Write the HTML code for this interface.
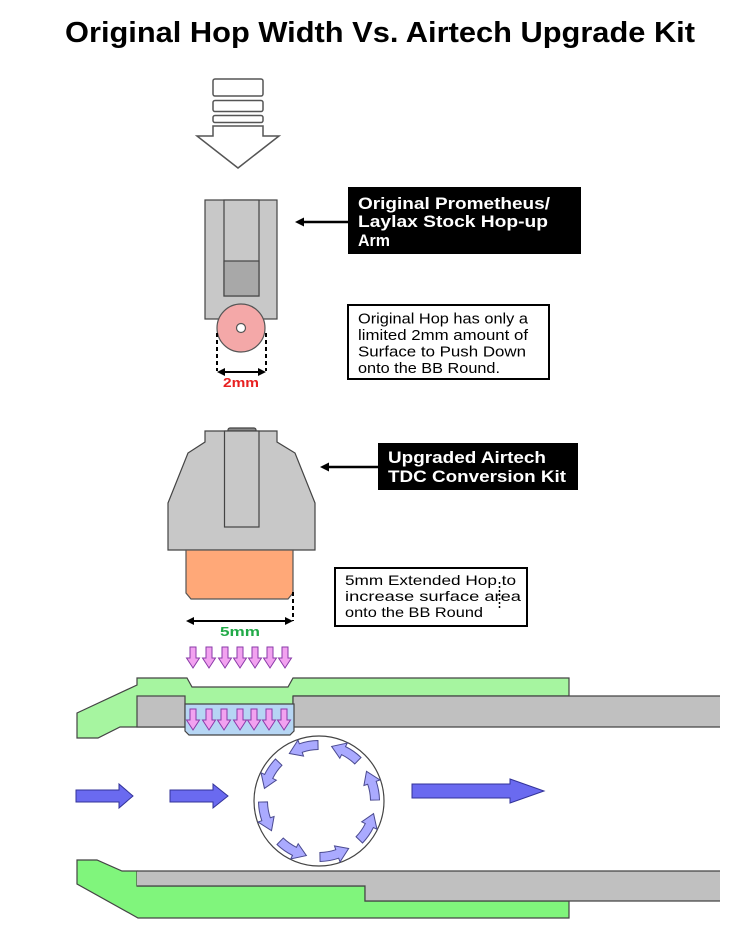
<!DOCTYPE html>
<html>
<head>
<meta charset="utf-8">
<style>
html,body{margin:0;padding:0;background:#fff;}
svg{display:block;}
text{font-family:"Liberation Sans", "DejaVu Sans", sans-serif;}
</style>
</head>
<body>
<svg width="756" height="945" viewBox="0 0 756 945" xmlns="http://www.w3.org/2000/svg">
<defs>
  <path id="pa" d="M-3,0 H3 V11 H6.5 L0,21 L-6.5,11 H-3 Z" fill="#f2a2f0" stroke="#8a3aa8" stroke-width="1"/>
  <path id="arc" d="M60.49,-1.06 A60.5,60.5 0 0 0 57.20,-19.70 L60.99,-21.00 L47.49,-29.67 L44.91,-15.47 L48.69,-16.77 A51.5,51.5 0 0 1 51.49,-0.90 Z" fill="#aaaaff" stroke="#4a4a90" stroke-width="1"/>
</defs>

<!-- Title -->
<text x="65" y="42" font-size="29" font-weight="bold" fill="#000" textLength="630" lengthAdjust="spacingAndGlyphs">Original Hop Width Vs. Airtech Upgrade Kit</text>

<!-- top push arrow -->
<g fill="#fff" stroke="#555" stroke-width="1.5">
  <rect x="213" y="79" width="50" height="17" rx="2"/>
  <rect x="213" y="100.5" width="50" height="11" rx="2"/>
  <rect x="213" y="115.5" width="50" height="7" rx="2"/>
  <polygon points="213,126 263,126 263,136 279,136 238,168 197,136 213,136"/>
</g>

<!-- Original hop arm -->
<g stroke="#444" stroke-width="1.2">
  <rect x="205" y="200" width="72" height="119" fill="#c8c8c8"/>
  <rect x="224" y="200" width="35" height="96" fill="#c8c8c8"/>
  <rect x="224" y="261" width="35" height="35" fill="#a8a8a8"/>
  <circle cx="241" cy="328" r="24" fill="#f4a8a8" stroke="#555"/>
  <circle cx="241" cy="328" r="4.5" fill="#fff" stroke="#555"/>
</g>
<!-- 2mm dimension -->
<g stroke="#000" stroke-width="2" stroke-dasharray="4 3">
  <line x1="217" y1="333" x2="217" y2="371"/>
  <line x1="266" y1="333" x2="266" y2="371"/>
</g>
<line x1="224" y1="372" x2="259" y2="372" stroke="#000" stroke-width="2"/>
<polygon points="217,372 225,368 225,376" fill="#000"/>
<polygon points="266,372 258,368 258,376" fill="#000"/>
<text x="241" y="387" font-size="13" font-weight="bold" fill="#e82020" text-anchor="middle" textLength="36" lengthAdjust="spacingAndGlyphs">2mm</text>

<!-- Label 1 -->
<line x1="303" y1="222" x2="348" y2="222" stroke="#000" stroke-width="2.5"/>
<polygon points="295,222 304,217.5 304,226.5" fill="#000"/>
<rect x="348" y="187" width="233" height="67" fill="#000"/>
<g fill="#fff" font-size="17" font-weight="bold">
  <text x="358" y="209" textLength="192" lengthAdjust="spacingAndGlyphs">Original Prometheus/</text>
  <text x="358" y="227" textLength="190" lengthAdjust="spacingAndGlyphs">Laylax Stock Hop-up</text>
  <text x="358" y="246" textLength="32" lengthAdjust="spacingAndGlyphs">Arm</text>
</g>

<!-- Label 2 -->
<rect x="348" y="305" width="201" height="74" fill="#fff" stroke="#000" stroke-width="2"/>
<g fill="#000" font-size="14.5">
  <text x="358" y="323.5" textLength="170" lengthAdjust="spacingAndGlyphs">Original Hop has only a</text>
  <text x="358" y="340" textLength="170" lengthAdjust="spacingAndGlyphs">limited 2mm amount of</text>
  <text x="358" y="356.5" textLength="168" lengthAdjust="spacingAndGlyphs">Surface to Push Down</text>
  <text x="358" y="373" textLength="142" lengthAdjust="spacingAndGlyphs">onto the BB Round.</text>
</g>

<!-- Upgraded arm -->
<g stroke="#444" stroke-width="1.2">
  <rect x="228" y="428" width="28" height="5" rx="2" fill="#888"/>
  <polygon points="205,431 277,431 277,442 295,453 315,503 315,550 168,550 168,503 188,453 205,442" fill="#c8c8c8"/>
  <rect x="224.5" y="431" width="34.5" height="96" fill="#c8c8c8"/>
  <polygon points="186,550 293,550 293,593 288,599 191,599 186,593" fill="#ffa878" stroke="#555"/>
</g>
<!-- 5mm dimension -->
<line x1="293" y1="592" x2="293" y2="621" stroke="#000" stroke-width="2" stroke-dasharray="4 3"/>
<line x1="193" y1="621" x2="286" y2="621" stroke="#000" stroke-width="2"/>
<polygon points="186,621 194,617 194,625" fill="#000"/>
<polygon points="293,621 285,617 285,625" fill="#000"/>
<text x="240" y="636" font-size="13" font-weight="bold" fill="#22aa48" text-anchor="middle" textLength="40" lengthAdjust="spacingAndGlyphs">5mm</text>

<!-- upper pink arrows -->
<use href="#pa" x="193" y="647"/>
<use href="#pa" x="209" y="647"/>
<use href="#pa" x="225" y="647"/>
<use href="#pa" x="240" y="647"/>
<use href="#pa" x="255" y="647"/>
<use href="#pa" x="270" y="647"/>
<use href="#pa" x="285" y="647"/>

<!-- Label 3 -->
<line x1="328" y1="467" x2="379" y2="467" stroke="#000" stroke-width="2.5"/>
<polygon points="320,467 329,462.5 329,471.5" fill="#000"/>
<rect x="378" y="443" width="200" height="47" fill="#000"/>
<g fill="#fff" font-size="17" font-weight="bold">
  <text x="388" y="463" textLength="158" lengthAdjust="spacingAndGlyphs">Upgraded Airtech</text>
  <text x="388" y="482" textLength="178" lengthAdjust="spacingAndGlyphs">TDC Conversion Kit</text>
</g>

<!-- Label 4 -->
<rect x="335" y="568" width="192" height="58" fill="#fff" stroke="#000" stroke-width="2"/>
<g fill="#000" font-size="14">
  <text x="345" y="585" textLength="171" lengthAdjust="spacingAndGlyphs">5mm Extended Hop to</text>
  <text x="345" y="601" textLength="176" lengthAdjust="spacingAndGlyphs">increase surface area</text>
  <text x="345" y="617" textLength="138" lengthAdjust="spacingAndGlyphs">onto the BB Round</text>
</g>
<line x1="499.5" y1="582" x2="499.5" y2="608" stroke="#000" stroke-width="1.5" stroke-dasharray="2 2"/>

<!-- Barrel top -->
<polygon points="77,713 137,685 137,678 187,678 192,687 288,687 293,678 569,678 569,696 293,696 293,727 137,727 120,727 98,738 77,738" fill="#a6f5a0" stroke="#444" stroke-width="1.2"/>
<rect x="137" y="696" width="48" height="31" fill="#c0c0c0" stroke="#444" stroke-width="1.2"/>
<rect x="293" y="696" width="427" height="31" fill="#c0c0c0"/>
<line x1="293" y1="696" x2="720" y2="696" stroke="#444" stroke-width="1.2"/>
<line x1="293" y1="727" x2="720" y2="727" stroke="#444" stroke-width="1.2"/>
<line x1="293" y1="696" x2="293" y2="727" stroke="#444" stroke-width="1.2"/>
<polygon points="185,704 294,704 294,731 290,735 189,735 185,731" fill="#b6d6f4" stroke="#444" stroke-width="1.2"/>
<use href="#pa" x="193" y="709"/>
<use href="#pa" x="209" y="709"/>
<use href="#pa" x="224" y="709"/>
<use href="#pa" x="240" y="709"/>
<use href="#pa" x="254" y="709"/>
<use href="#pa" x="269" y="709"/>
<use href="#pa" x="284" y="709"/>

<!-- Barrel bottom -->
<polygon points="77,860 97,860 122,871 137,871 137,886 365,886 365,901 569,901 569,918 138,918 77,884" fill="#80f57c" stroke="#444" stroke-width="1.2"/>
<polygon points="137,871 720,871 720,901 365,901 365,886 137,886" fill="#c0c0c0"/>
<polyline points="137,871 720,871" fill="none" stroke="#444" stroke-width="1.2"/>
<polyline points="137,886 365,886 365,901 720,901" fill="none" stroke="#444" stroke-width="1.2"/>

<!-- flow arrows -->
<g fill="#6a6af0" stroke="#333399" stroke-width="1">
  <polygon points="76,790 119,790 119,784 133,796 119,808 119,802 76,802"/>
  <polygon points="170,790 213,790 213,784 228,796 213,808 213,802 170,802"/>
  <polygon points="412,784 510,784 510,779 544,791 510,803 510,798 412,798"/>
</g>

<!-- BB -->
<circle cx="319" cy="801" r="65" fill="#fff" stroke="#444" stroke-width="1.2"/>
<g transform="translate(319,801)">
  <use href="#arc"/>
  <use href="#arc" transform="rotate(-45)"/>
  <use href="#arc" transform="rotate(-90)"/>
  <use href="#arc" transform="rotate(-135)"/>
  <use href="#arc" transform="rotate(-180)"/>
  <use href="#arc" transform="rotate(-225)"/>
  <use href="#arc" transform="rotate(-270)"/>
  <use href="#arc" transform="rotate(-315)"/>
</g>
</svg>
</body>
</html>
